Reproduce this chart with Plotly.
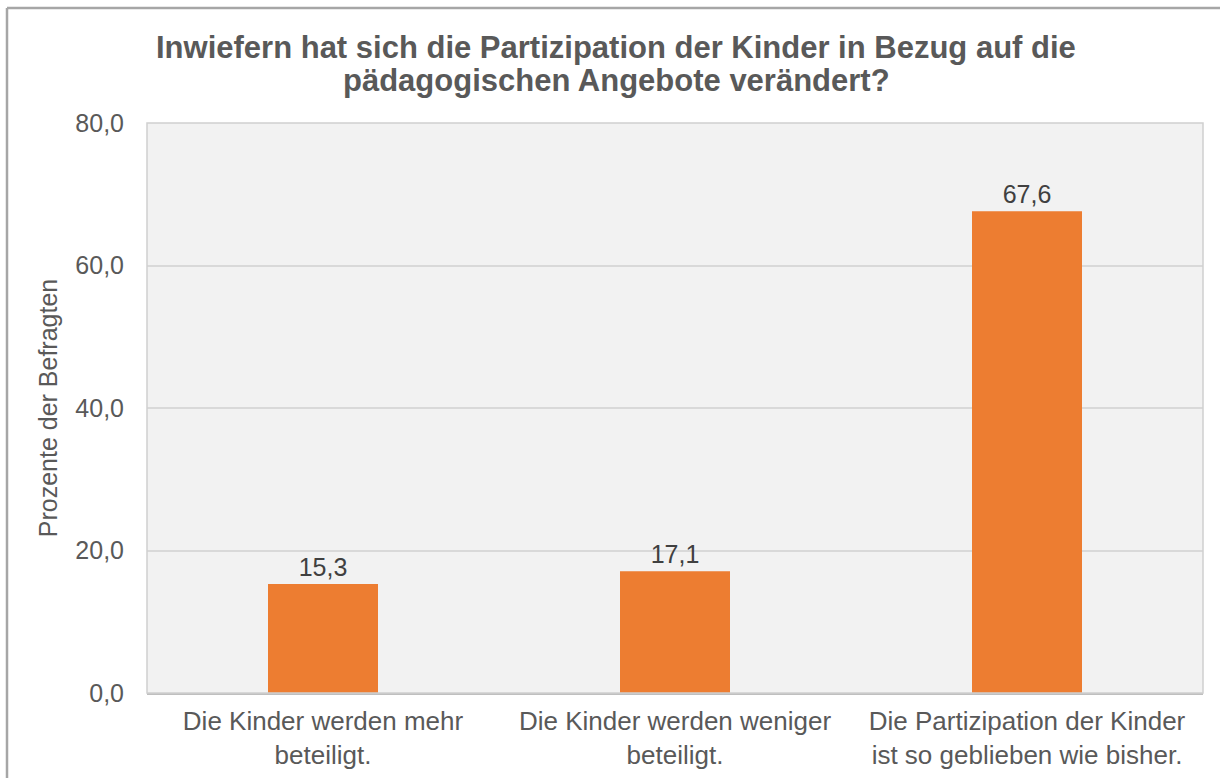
import plotly.graph_objects as go

categories = [
    "Die Kinder werden mehr<br>beteiligt.",
    "Die Kinder werden weniger<br>beteiligt.",
    "Die Partizipation der Kinder<br>ist so geblieben wie bisher.",
]
values = [15.3, 17.1, 67.6]
y_ticks = [0, 20, 40, 60, 80]

title_lines = [
    "Inwiefern hat sich die Partizipation der Kinder in Bezug auf die",
    "pädagogischen Angebote verändert?",
]

W, H = 1220, 778
L, R, T, B = 147, 17, 123, 85
pw, ph = W - L - R, H - T - B
FONT = "Liberation Sans, Arial"

fig = go.Figure()
fig.add_trace(go.Bar(
    x=categories, y=values,
    marker=dict(color="#ED7D31", line=dict(width=0)),
    width=0.3125,
    text=values, texttemplate="%{y:.1f}", textposition="outside",
    textfont=dict(family=FONT, size=25, color="#404040"),
    cliponaxis=False,
))

fig.update_layout(
    width=W, height=H,
    margin=dict(l=L, r=R, t=T, b=B, autoexpand=False),
    paper_bgcolor="white",
    plot_bgcolor="#F2F2F2",
    separators=",.",
    showlegend=False,
    font=dict(family=FONT, color="#595959"),
)
# title as two centred lines (tight line spacing like the original)
for i, (line, ypx) in enumerate(zip(title_lines, [47, 80])):
    fig.add_annotation(
        text="<b>" + line + "</b>",
        xref="paper", yref="paper",
        x=(616 - L) / pw, y=1 + (T - ypx) / ph,
        xanchor="center", yanchor="middle",
        showarrow=False,
        font=dict(family=FONT, size=31, color="#595959"),
    )

fig.update_xaxes(
    showgrid=False,
    showline=True, linecolor="#BFBFBF", linewidth=2,
    tickfont=dict(size=26, color="#595959"),
    ticks="", ticklabelstandoff=4,
    automargin=False,
)
fig.update_yaxes(
    range=[0, 80],
    tickvals=y_ticks, tickformat=".1f",
    showgrid=True, gridcolor="#D9D9D9", gridwidth=1.5,
    zeroline=False,
    showline=False,
    tickfont=dict(size=25, color="#595959"),
    ticks="", ticklabelstandoff=22,
    automargin=False,
    title=dict(text="Prozente der Befragten", font=dict(size=25, color="#595959"), standoff=10),
)
# plot-area border
fig.add_shape(type="rect", xref="paper", yref="paper", x0=0, x1=1, y0=0, y1=1,
              line=dict(color="#D0D0D0", width=1.5), layer="above")
# outer chart border (left and top)
ox = (7 - L) / pw
oy = 1 + (T - 8) / ph
fig.add_shape(type="line", xref="paper", yref="paper", x0=ox, x1=ox, y0=-0.3, y1=oy,
              line=dict(color="#A6A6A6", width=2.5))
fig.add_shape(type="line", xref="paper", yref="paper", x0=ox, x1=1.1, y0=oy, y1=oy,
              line=dict(color="#A6A6A6", width=2.5))

fig.write_html("out.html", config={"displayModeBar": False},
               post_script="document.body.style.margin='0';")
